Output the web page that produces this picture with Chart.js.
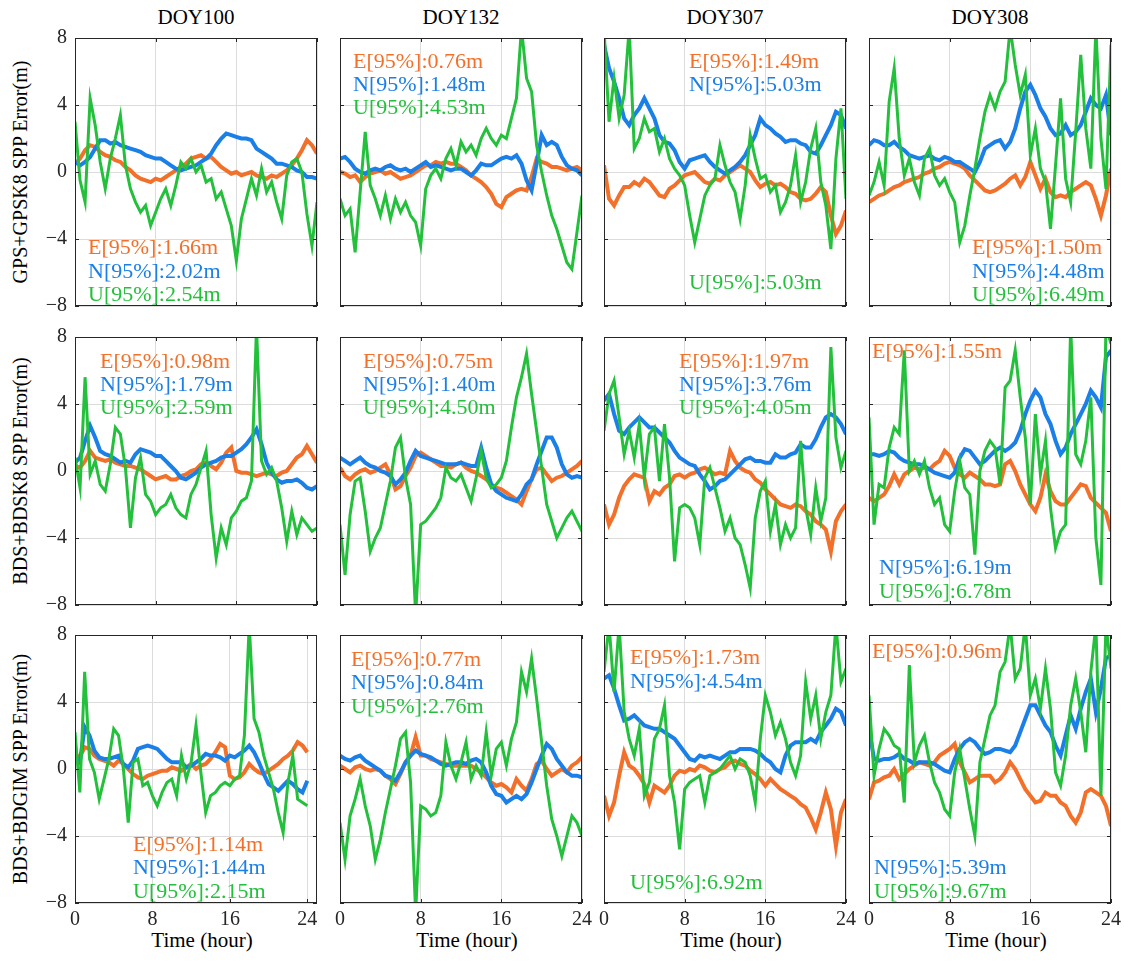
<!DOCTYPE html>
<html><head><meta charset="utf-8">
<script src="https://cdn.jsdelivr.net/npm/chart.js@4.4.1/dist/chart.umd.min.js"></script>
<style>
html,body{margin:0;padding:0;background:#fff;}
#wrap{position:relative;width:1124px;height:963px;overflow:hidden;background:#fff;font-family:"Liberation Serif","Times New Roman",serif;}
canvas{position:absolute;}
.t{position:absolute;color:#000;white-space:nowrap;text-align:center;}
</style></head><body><div id="wrap"></div>
<script>
const hours = [0,0.5,1,1.5,2,2.5,3,3.5,4,4.5,5,5.5,6,6.5,7,7.5,8,8.5,9,9.5,10,10.5,11,11.5,12,12.5,13,13.5,14,14.5,15,15.5,16,16.5,17,17.5,18,18.5,19,19.5,20,20.5,21,21.5,22,22.5,23,23.5,24];
const xTickVals = [0,8,16,24];
const yTickVals = [-8,-4,0,4,8];
const dayTitles = ['DOY100','DOY132','DOY307','DOY308'];
const rowTitles = ['GPS+GPSK8 SPP Error(m)','BDS+BDSK8 SPP Error(m)','BDS+BDGIM SPP Error(m)'];
const xTitle = 'Time (hour)';

// ---- GPS+GPSK8 ----
const gps100E = [0.5,0.8,1.3,1.6,1.5,1.2,1.0,0.9, 0.7,0.6,0.3,0.1,-0.2,-0.4,-0.5,-0.6, -0.4,-0.5,-0.3,-0.1,0.1,0.3,0.5,0.8, 0.9,1.0,0.8,0.9,0.6,0.3,0.1,-0.1, 0.0,-0.2,-0.1,0.0,-0.2,-0.3,-0.4,-0.2, -0.3,-0.1,0.1,0.4,0.8,1.3,1.9,1.6, 1.1];
const gps100N = [0.6,0.4,0.6,0.9,1.4,1.9,1.9,1.7, 1.8,1.6,1.5,1.4,1.3,1.2,1.0,0.9, 0.8,0.8,0.6,0.4,0.2,0.1,0.2,0.3, 0.4,0.6,0.8,1.1,1.6,2.0,2.3,2.2, 2.1,2.0,2.0,1.9,1.4,1.2,1.0,0.8, 0.5,0.5,0.4,0.3,0.1,0.0,-0.3,-0.3, -0.4];
const gps100U = [3.0,-0.5,-1.8,4.4,2.8,0.6,-1.0,0.8, 2.0,3.4,0.4,-1.0,-1.8,-2.4,-2.0,-3.2, -2.4,-1.6,-1.0,-2.0,-0.8,0.6,0.2,0.8, 0.0,0.4,-0.6,-0.4,-1.6,-1.2,-2.2,-3.2, -5.3,-2.8,-1.6,-0.4,-1.4,0.2,-1.2,-0.6, -1.8,-2.8,-0.2,0.6,0.8,0.0,-2.5,-4.4, -1.8];

const gps132E = [0.0,-0.1,-0.3,-0.2,-0.6,-0.3,-0.1,0.0, 0.1,-0.1,0.0,-0.2,-0.4,-0.3,-0.2,0.0, 0.2,0.4,0.4,0.6,0.5,0.6,0.5,0.5, 0.3,0.1,-0.2,-0.4,-0.6,-0.9,-1.3,-1.9, -2.1,-1.5,-1.3,-1.1,-1.0,-1.1,-0.3,0.8, 0.6,0.5,0.3,0.3,0.2,0.1,0.2,0.3, 0.1];
const gps132N = [0.8,0.9,0.6,0.2,0.0,-0.1,0.1,0.2, 0.1,0.3,0.4,0.2,0.1,0.2,0.0,0.2, 0.4,0.6,0.3,0.4,0.3,0.2,0.1,0.2, 0.2,0.0,-0.2,0.1,0.5,0.4,0.4,0.6, 0.8,0.9,0.8,1.0,0.5,-0.5,-1.1,0.5, 2.2,1.6,1.8,1.6,0.9,0.4,0.2,0.1, -0.2];
const gps132U = [-1.6,-2.6,-2.2,-4.8,-1.2,2.4,-0.8,-1.6, -2.6,-1.4,-2.8,-1.6,-2.4,-1.8,-2.6,-3.0, -4.4,-1.0,-0.2,0.2,-0.4,0.8,1.4,0.4, 1.8,1.2,1.6,1.0,2.0,2.6,2.0,1.6, 2.2,2.0,3.2,4.4,8.6,5.6,4.8,1.6, 0.0,-1.4,-2.6,-3.4,-4.4,-5.4,-5.8,-3.6, -1.4];

const gps307E = [0.4,-1.6,-2.0,-1.4,-0.9,-0.9,-0.6,-0.8, -0.4,-0.6,-1.0,-1.4,-1.5,-1.0,-0.8,-0.5, -0.2,-0.1,0.0,-0.3,-0.6,-0.7,-0.4,-0.5, -0.2,0.0,0.2,0.4,0.2,0.0,-0.5,-0.9, -0.7,-0.6,-0.8,-0.7,-0.9,-1.2,-1.3,-1.6, -1.7,-1.6,-1.3,-0.9,-1.2,-2.6,-3.7,-3.2, -2.3];
const gps307N = [7.6,6.2,5.4,4.4,3.2,2.8,3.4,3.8, 4.4,3.8,3.2,2.2,1.8,1.7,1.3,0.6, 0.2,0.7,0.8,0.9,1.0,0.6,0.3,0.1, -0.1,0.1,0.3,0.6,1.0,1.6,2.2,3.2, 2.8,2.6,2.3,2.1,1.8,1.9,1.9,1.7, 1.6,1.2,1.1,1.6,2.2,2.8,3.6,3.4, 2.6];
const gps307U = [8.6,3.0,5.6,3.2,4.6,8.6,1.4,2.0, 3.2,2.4,2.6,1.2,2.0,0.8,0.2,-0.2, -0.8,-2.6,-4.2,-2.8,-1.4,-0.8,-0.4,1.6, 0.4,-0.6,-1.2,-2.8,-0.8,2.2,0.8,-0.4, -0.2,-1.2,-0.8,-2.4,-1.8,-0.8,1.0,-1.8, -0.6,1.4,2.6,-0.6,-2.0,-4.6,0.8,3.8, -1.6];

const gps308E = [-1.8,-1.6,-1.4,-1.3,-1.1,-0.9,-0.8,-0.6, -0.5,-0.4,-0.3,-0.1,0.0,0.2,0.3,0.5, 0.6,0.5,0.4,0.2,-0.2,-0.5,-0.8,-1.1, -1.2,-1.1,-0.9,-0.7,-0.4,-0.2,-0.8,-0.3, 0.6,-0.2,-1.0,-0.4,-1.2,-1.5,-1.4,-1.5, -1.2,-1.0,-0.8,-0.6,-0.8,-1.6,-2.6,-1.4, 0.2];
const gps308N = [1.6,1.9,1.8,1.6,1.6,1.8,1.5,1.3, 1.0,0.9,0.8,0.9,1.0,0.8,0.7,0.9, 0.8,0.6,0.6,0.4,0.2,0.0,0.6,1.4, 1.6,1.8,1.9,1.4,1.8,2.6,3.8,4.8, 5.2,4.6,3.8,3.3,2.6,2.2,2.3,2.8, 2.2,2.4,2.8,3.6,4.4,4.0,3.8,4.6, 2.2];
const gps308U = [-1.4,-0.6,0.6,-0.8,4.2,6.2,2.0,-0.2, 0.8,-0.6,-1.4,0.8,1.4,-0.2,-0.8,-0.4, -1.2,-1.8,-4.2,-3.2,-1.4,0.2,2.0,3.6, 4.6,3.8,4.8,5.4,8.6,6.4,4.6,5.8, 1.0,2.6,0.2,-0.6,-3.4,0.4,4.4,-0.4, -1.8,2.4,7.0,2.6,0.2,8.6,2.0,-1.0, 7.6];

// ---- BDS+BDSK8 ----
const bds100E = [0.3,0.2,0.6,1.2,0.8,0.7,0.6,0.7, 0.5,0.4,0.3,0.3,0.2,0.1,-0.1,-0.3, -0.5,-0.4,-0.3,-0.5,-0.5,-0.3,-0.2,0.0, 0.1,0.4,0.5,0.3,0.1,0.5,1.1,1.4, 0.0,-0.1,-0.1,-0.2,-0.3,-0.2,-0.1,-0.2, -0.3,-0.1,0.0,0.4,0.8,1.0,1.5,1.0, 0.5];
const bds100N = [0.5,0.8,1.8,2.7,2.0,1.2,1.0,0.9, 0.7,0.5,0.6,0.5,1.0,1.3,1.2,1.1, 0.9,0.9,0.6,0.3,0.0,-0.4,-0.5,-0.3, -0.1,0.2,0.4,0.5,0.6,0.8,0.9,0.9, 1.1,1.3,1.6,2.0,2.5,1.6,0.5,-0.1, -0.5,-0.7,-0.6,-0.6,-0.5,-0.7,-1.0,-1.1, -0.9];
const bds100U = [0.8,-1.0,5.6,-0.2,0.6,-0.8,-1.2,0.4, 2.6,2.2,0.2,-3.4,-0.4,0.8,-1.4,-1.8, -2.6,-2.2,-2.0,-1.4,-2.2,-2.6,-2.8,-1.4, -0.8,0.2,1.2,-2.6,-5.2,-3.4,-4.4,-2.8, -2.4,-1.8,-1.6,-0.6,8.6,0.6,-0.2,0.2, -0.6,-2.2,-4.2,-2.4,-3.8,-2.8,-3.2,-3.6, -3.4];

const bds132E = [0.2,-0.3,-0.5,-0.2,0.0,0.1,-0.1,0.0, 0.2,0.4,-0.2,-1.1,-0.9,-0.3,0.2,0.9, 1.1,0.9,0.7,0.5,0.3,0.3,0.2,0.4, 0.5,0.2,0.0,-0.1,-0.3,-0.5,-0.8,-1.0, -1.1,-1.3,-1.5,-1.7,-2.0,-1.2,-0.5,0.1, 0.2,-0.2,-0.6,-0.4,-0.3,-0.1,0.1,0.3, 0.6];
const bds132N = [0.8,0.6,0.4,0.6,0.8,0.5,0.3,0.2, 0.0,-0.1,-0.3,-0.8,-0.5,-0.1,0.6,1.2, 0.9,0.8,0.7,0.6,0.5,0.4,0.4,0.4, 0.5,0.4,0.3,0.3,1.4,0.2,-0.8,-1.2, -1.4,-1.6,-1.7,-1.8,-1.4,-0.8,-0.5,0.4, 1.2,2.0,2.0,1.4,0.4,-0.2,-0.4,-0.3, -0.4];
const bds132U = [-3.2,-6.2,-2.6,-0.6,-0.4,-2.4,-4.8,-4.0, -3.4,-2.0,-0.6,1.4,2.0,-0.4,-2.0,-8.6, -3.2,-3.0,-2.6,-2.2,-1.6,0.2,-0.4,-0.6, -0.2,-1.0,-1.8,-0.4,1.2,-0.4,-1.0,-0.8, -0.4,0.6,2.6,4.4,5.6,7.0,4.6,2.4, 0.2,-2.0,-3.0,-4.0,-3.4,-2.8,-2.4,-3.0, -3.6];

const bds307E = [-2.0,-3.2,-2.6,-1.6,-0.9,-0.5,-0.2,-0.3, -0.4,-1.8,-1.2,-1.4,-1.0,-0.8,-0.3,-0.2, -0.4,-0.2,-0.1,0.1,0.2,0.0,-0.2,-0.1, -0.2,1.2,0.6,0.2,0.0,-0.1,-0.5,-0.7, -1.1,-1.4,-1.7,-2.0,-2.1,-2.2,-2.0,-2.1, -2.4,-2.6,-3.0,-3.2,-3.5,-4.8,-3.0,-2.4, -2.0];
const bds307N = [4.2,4.6,3.4,2.4,2.2,2.6,2.9,3.2, 2.9,2.6,2.6,2.3,2.0,1.7,1.2,0.8, 0.6,0.4,0.3,-0.2,-0.6,-1.1,-0.9,-0.6, -0.5,-0.2,0.1,0.4,0.7,0.8,0.6,0.6, 0.5,0.5,1.0,0.8,0.8,1.0,1.1,1.6, 1.4,1.4,1.9,2.6,3.2,3.4,3.2,2.8, 2.2];
const bds307U = [2.4,4.6,5.4,3.2,1.0,2.4,0.8,2.8, -0.4,2.2,2.6,-0.6,2.8,-0.4,-5.4,-2.2, -2.0,-2.2,-2.8,-4.4,-0.4,0.2,-1.0,-2.2, -3.6,-2.8,-4.0,-4.4,-5.6,-7.0,-2.8,-1.2, -0.6,-3.6,-2.0,-4.4,-3.2,-4.0,-3.4,1.8, -2.2,-3.8,-1.0,-3.0,-1.6,7.4,2.0,0.2, 1.2];

const bds308E = [-1.6,-1.8,-1.6,-1.4,-0.9,-0.2,-0.8,-0.2, 0.0,0.2,0.1,0.2,0.1,0.4,0.6,1.2, 0.9,0.2,-0.2,-0.4,-0.1,-0.3,-0.5,-0.8, -0.8,-0.9,-0.8,0.4,0.6,0.0,-0.8,-1.4, -2.0,-2.4,-1.6,-0.2,-1.2,-1.8,-2.0,-2.0, -1.6,-1.2,-0.8,-0.9,-1.6,-1.9,-2.2,-2.5, -3.6];
const bds308N = [1.0,1.0,0.9,1.0,1.2,1.1,0.8,0.6, 0.5,0.4,0.4,0.3,0.1,-0.1,-0.2,-0.3, -0.4,-0.1,0.8,1.3,1.2,0.8,0.4,0.6, 0.9,1.2,1.4,1.2,1.4,1.7,2.4,3.4, 4.2,4.8,4.4,3.4,2.8,1.8,1.0,1.4, 2.2,2.8,3.4,4.0,4.8,4.4,3.8,6.8, 7.2];
const bds308U = [3.2,-3.2,-0.8,-1.0,1.4,2.6,2.2,7.2, 0.0,0.6,-0.2,0.6,-1.0,-2.0,-1.6,-3.2, -3.6,-1.2,0.6,-1.0,-1.4,-5.0,0.0,1.2, 1.8,1.4,-0.8,5.0,5.4,7.2,4.4,2.0, -2.0,3.4,-0.2,1.8,-2.2,-4.6,-3.6,-3.2, 8.6,1.0,0.4,1.8,4.4,-4.0,-6.8,8.6, 7.6];

// ---- BDS+BDGIM ----
const bgim100E = [0.9,0.7,1.3,1.2,0.8,0.6,0.5,0.4, 0.2,0.5,0.3,0.0,-0.3,-0.5,-0.6,-0.4, -0.3,-0.2,-0.1,-0.1,0.1,0.0,-0.1,0.1, 0.3,0.0,0.2,0.3,0.6,1.0,1.5,1.3, -0.4,-0.6,-0.5,-0.2,0.3,0.0,-0.2,-0.3, -0.1,0.1,0.3,0.6,0.8,1.1,1.6,1.4, 1.0];
const bgim100N = [0.8,0.4,2.5,2.0,1.1,0.7,0.6,0.6, 0.7,0.8,0.3,0.1,0.5,1.2,1.3,1.4, 1.3,1.2,0.9,0.6,0.4,0.4,0.4,0.1, 0.2,0.4,0.6,0.9,0.8,0.8,0.7,0.5, 0.8,0.7,0.9,1.1,1.4,1.0,0.4,-0.3, -0.9,-1.1,-1.3,-1.0,-0.7,-0.9,-1.2,-1.4, -0.7];
const bgim100U = [2.2,-1.4,5.8,0.6,-0.2,-1.8,-0.6,0.6, 2.4,2.0,0.0,-3.2,0.4,0.6,-1.0,-0.8, -1.6,-2.2,-1.4,-0.8,-0.6,-1.6,0.8,-0.6, 0.4,2.6,-0.2,-2.6,-1.6,-1.4,-1.0,-0.8, -1.0,-0.6,-0.4,2.0,8.6,3.0,2.2,0.8, -0.2,-1.2,-2.6,-3.8,-0.8,0.8,-1.8,-2.0, -2.2];

const bgim132E = [0.2,0.0,-0.2,0.1,0.2,0.0,-0.1,0.0, -0.1,-0.4,-0.6,-0.9,-0.3,0.4,0.8,1.9, 0.8,0.8,0.6,0.5,0.4,0.3,0.2,0.2, 0.2,0.2,0.2,0.0,-0.2,-0.5,-0.8,-1.0, -0.9,-1.1,-1.4,-0.6,-1.0,-1.3,-0.6,0.3, 0.5,0.0,-0.4,-0.2,0.0,-0.2,0.2,0.4, 0.7];
const bgim132N = [0.8,0.6,0.5,0.7,0.8,0.5,0.3,0.1, -0.1,-0.4,-0.5,-0.7,-0.2,0.4,0.8,1.1, 0.9,0.8,0.7,0.5,0.3,0.2,0.3,0.4, 0.4,0.3,0.5,0.6,0.4,-0.2,-1.0,-1.5, -1.6,-2.0,-1.8,-1.6,-1.8,-1.5,-0.8,0.0, 0.8,1.5,1.2,0.6,0.2,-0.2,-0.4,-0.4, -0.5];
const bgim132U = [-3.2,-5.4,-2.8,-1.8,-0.6,-2.2,-3.4,-5.4, -4.2,-2.6,-1.2,0.2,1.8,2.2,-0.8,-8.6, -2.2,-2.4,-2.8,-2.6,-1.6,1.6,0.2,-0.6, 0.4,1.6,-0.6,0.2,-0.4,2.2,-0.4,1.2, 1.6,0.2,1.8,2.8,5.8,4.6,6.6,4.2, 1.6,-1.0,-3.0,-4.0,-5.2,-4.0,-2.8,-3.2, -4.0];

const bgim307E = [-1.6,-2.8,-2.0,-0.4,1.0,0.2,0.0,-0.4, -0.9,-2.0,-1.0,-1.2,-1.4,-1.0,-0.4,-0.1, -0.2,0.0,-0.1,0.2,0.1,-0.1,-0.2,0.0, 0.1,0.4,0.5,0.3,0.2,-0.1,-0.3,-0.6, -1.0,-0.6,-0.9,-1.2,-1.4,-1.6,-1.8,-2.1, -2.3,-2.9,-3.6,-2.6,-1.4,-2.4,-4.6,-2.6, -1.8];
const bgim307N = [5.4,5.6,4.8,3.8,2.9,3.0,3.2,2.9, 2.6,2.5,2.4,2.4,2.2,2.0,1.8,1.4, 1.0,0.6,0.5,0.8,0.7,0.8,0.7,0.6, 0.8,1.0,1.0,1.2,1.2,1.2,1.1,0.9, 0.6,0.4,0.0,-0.2,0.8,1.4,1.6,1.6, 1.6,1.8,1.6,2.2,2.6,3.0,3.6,3.4, 2.6];
const bgim307U = [5.8,8.6,4.6,8.6,3.4,1.8,0.8,2.4, -1.6,-0.8,1.8,2.4,3.8,-0.4,-2.0,-4.8, -1.2,-0.8,-0.6,-0.4,-2.0,-0.4,-0.2,0.0, 0.4,0.8,0.0,0.6,0.4,-0.4,-2.0,1.8, 4.4,3.4,2.0,2.8,1.8,0.4,-0.4,0.8, 5.2,3.0,4.4,1.8,3.4,4.4,8.6,5.2, 6.0];

const bgim308E = [-1.8,-0.8,-0.7,-0.5,-0.4,0.0,-0.6,-0.3, 0.0,0.2,0.4,0.3,0.2,0.4,0.8,1.0, 1.2,1.5,0.4,-0.2,-0.8,-0.6,-0.4,-0.4, -0.4,-0.8,-0.6,-0.2,0.4,0.0,-0.6,-1.2, -1.6,-2.0,-1.9,-1.4,-1.6,-1.6,-2.0,-2.2, -2.8,-3.2,-2.6,-1.4,-1.2,-1.4,-1.6,-2.2, -3.4];
const bgim308N = [2.4,0.6,0.5,0.6,0.6,0.7,0.9,0.6, 0.5,0.3,0.4,0.4,0.4,0.3,0.1,-0.1, -0.2,0.6,1.2,1.6,1.8,1.6,1.2,0.9, 1.0,1.2,1.2,1.1,1.0,1.4,2.2,3.0, 3.8,3.8,3.2,2.6,2.2,1.4,0.8,2.0, 3.2,2.4,3.6,4.6,5.4,3.4,4.8,6.6, 6.8];
const bgim308U = [4.4,-0.4,1.2,2.4,2.0,1.4,1.2,-2.0, 6.2,0.4,1.4,2.0,0.4,-0.8,-1.4,-2.4, -2.8,-0.2,1.2,-0.6,-2.4,-4.0,0.4,1.8, 3.2,3.8,5.8,6.4,8.6,5.4,6.0,8.6, 4.4,5.4,3.6,6.0,3.6,-0.2,-1.0,0.8, 3.8,5.4,3.4,1.0,5.8,8.6,-1.6,8.6, 6.0];

const stats = [
  ['E[95%]:1.66m','N[95%]:2.02m','U[95%]:2.54m'],
  ['E[95%]:0.76m','N[95%]:1.48m','U[95%]:4.53m'],
  ['E[95%]:1.49m','N[95%]:5.03m','U[95%]:5.03m'],
  ['E[95%]:1.50m','N[95%]:4.48m','U[95%]:6.49m'],
  ['E[95%]:0.98m','N[95%]:1.79m','U[95%]:2.59m'],
  ['E[95%]:0.75m','N[95%]:1.40m','U[95%]:4.50m'],
  ['E[95%]:1.97m','N[95%]:3.76m','U[95%]:4.05m'],
  ['E[95%]:1.55m','N[95%]:6.19m','U[95%]:6.78m'],
  ['E[95%]:1.14m','N[95%]:1.44m','U[95%]:2.15m'],
  ['E[95%]:0.77m','N[95%]:0.84m','U[95%]:2.76m'],
  ['E[95%]:1.73m','N[95%]:4.54m','U[95%]:6.92m'],
  ['E[95%]:0.96m','N[95%]:5.39m','U[95%]:9.67m']
];

const series = [
  [gps100E,gps100N,gps100U],[gps132E,gps132N,gps132U],[gps307E,gps307N,gps307U],[gps308E,gps308N,gps308U],
  [bds100E,bds100N,bds100U],[bds132E,bds132N,bds132U],[bds307E,bds307N,bds307U],[bds308E,bds308N,bds308U],
  [bgim100E,bgim100N,bgim100U],[bgim132E,bgim132N,bgim132U],[bgim307E,bgim307N,bgim307U],[bgim308E,bgim308N,bgim308U]
];

// layout (pixels)
const colLeft = [75,340,604,869], rowTop = [38,337,635], plotW = 242, plotH = 268;
const xMaxes = [24,24,24,24, 24,24,24,24, 25,24,24,24];
const textPos = [
  [[13,210],[13,234],[13,257]], [[13,24],[13,47],[13,70]], [[85,24],[85,47],[85,245]], [[103,210],[103,234],[103,257]],
  [[25,25],[25,48],[25,71]], [[23,25],[23,48],[23,71]], [[75,25],[75,48],[75,71]], [[3,15],[10,231],[10,255]],
  [[58,210],[58,233],[58,257]], [[11,25],[11,48],[11,72]], [[26,23],[26,47],[26,248]], [[3,17],[5,233],[5,257]]
];
const COL = {E:'#F2702A', N:'#1B7FE8', U:'#23C03B'};
const FONT = 'Liberation Serif';

const frame = {
  id: 'frame',
  afterDraw(chart, args, o) {
    const {ctx, chartArea:a} = chart;
    const x = chart.scales.x, y = chart.scales.y;
    ctx.save();
    ctx.strokeStyle = '#262626'; ctx.lineWidth = 1;
    ctx.strokeRect(a.left + 0.5, a.top + 0.5, a.right - a.left - 1, a.bottom - a.top - 1);
    ctx.beginPath();
    xTickVals.forEach(v => {
      const px = Math.round(x.getPixelForValue(v)) + 0.5;
      ctx.moveTo(px, a.bottom); ctx.lineTo(px, a.bottom - 4);
      ctx.moveTo(px, a.top); ctx.lineTo(px, a.top + 4);
    });
    yTickVals.forEach(v => {
      const py = Math.round(y.getPixelForValue(v)) + 0.5;
      ctx.moveTo(a.left, py); ctx.lineTo(a.left + 4, py);
      ctx.moveTo(a.right, py); ctx.lineTo(a.right - 4, py);
    });
    ctx.stroke();
    ctx.font = '22px "' + FONT + '"';
    ctx.textBaseline = 'middle'; ctx.textAlign = 'left';
    const cols = [COL.E, COL.N, COL.U];
    o.stats.forEach((s, i) => {
      ctx.fillStyle = cols[i];
      ctx.fillText(s, a.left + o.pos[i][0], a.top + o.pos[i][1]);
    });
    ctx.restore();
  }
};

const wrap = document.getElementById('wrap');
function addText(txt, cx, cy, size, rotate) {
  const d = document.createElement('div');
  d.className = 't';
  d.textContent = txt;
  d.style.fontSize = size + 'px';
  d.style.width = '300px'; d.style.height = (size + 4) + 'px'; d.style.lineHeight = (size + 4) + 'px';
  d.style.left = (cx - 150) + 'px'; d.style.top = (cy - (size + 4) / 2) + 'px';
  if (rotate) d.style.transform = 'rotate(-90deg)';
  wrap.appendChild(d);
}
dayTitles.forEach((t, c) => addText(t, colLeft[c] + plotW / 2, 17, 21, false));
rowTitles.forEach((t, r) => addText(t, 20, rowTop[r] + plotH / 2, 20, true));
colLeft.forEach(l => addText(xTitle, l + plotW / 2 + 6, 940, 21, false));

series.forEach((s, k) => {
  const r = Math.floor(k / 4), c = k % 4;
  const L = c === 0 ? 45 : 0, B = r === 2 ? 40 : 0, P = 16;
  const cv = document.createElement('canvas');
  const w = plotW + L + 2 * P, h = plotH + B + 2 * P;
  cv.width = w; cv.height = h;
  cv.style.width = w + 'px'; cv.style.height = h + 'px';
  cv.style.left = (colLeft[c] - L - P) + 'px'; cv.style.top = (rowTop[r] - P) + 'px';
  wrap.appendChild(cv);
  const mk = (arr, col, lw, ord) => ({
    data: hours.map((hh, i) => ({x: hh, y: arr[i]})),
    borderColor: col, backgroundColor: col, borderWidth: lw,
    pointRadius: 0, tension: 0, clip: 0, order: ord, fill: false,
    borderJoinStyle: 'miter'
  });
  const tickFont = {family: FONT, size: 20};
  new Chart(cv, {
    type: 'line',
    data: {datasets: [mk(s[2], COL.U, 3, 1), mk(s[1], COL.N, 4, 2), mk(s[0], COL.E, 4, 3)]},
    options: {
      responsive: false, animation: false, devicePixelRatio: 1, events: [],
      layout: {padding: P, autoPadding: false},
      plugins: {legend: {display: false}, tooltip: {enabled: false}, title: {display: false},
                frame: {stats: stats[k], pos: textPos[k]}},
      scales: {
        x: {
          type: 'linear', min: 0, max: xMaxes[k],
          afterBuildTicks: sc => { sc.ticks = xTickVals.map(v => ({value: v})); },
          afterFit: sc => { sc.height = B; sc.paddingLeft = 0; sc.paddingRight = 0; sc.paddingTop = 0; sc.paddingBottom = 0; },
          grid: {color: '#dcdcdc', lineWidth: 1, drawTicks: false},
          border: {display: false},
          ticks: {display: r === 2, padding: 5, font: tickFont, color: '#262626', maxRotation: 0, autoSkip: false}
        },
        y: {
          type: 'linear', min: -8, max: 8,
          afterBuildTicks: sc => { sc.ticks = yTickVals.map(v => ({value: v})); },
          afterFit: sc => { sc.width = L; sc.paddingLeft = 0; sc.paddingRight = 0; sc.paddingTop = 0; sc.paddingBottom = 0; },
          grid: {color: '#dcdcdc', lineWidth: 1, drawTicks: false},
          border: {display: false},
          ticks: {display: c === 0, padding: 8, font: tickFont, color: '#262626',
                  callback: v => (v < 0 ? '\u2212' + Math.abs(v) : String(v))}
        }
      }
    },
    plugins: [frame]
  });
});
</script></body></html>
